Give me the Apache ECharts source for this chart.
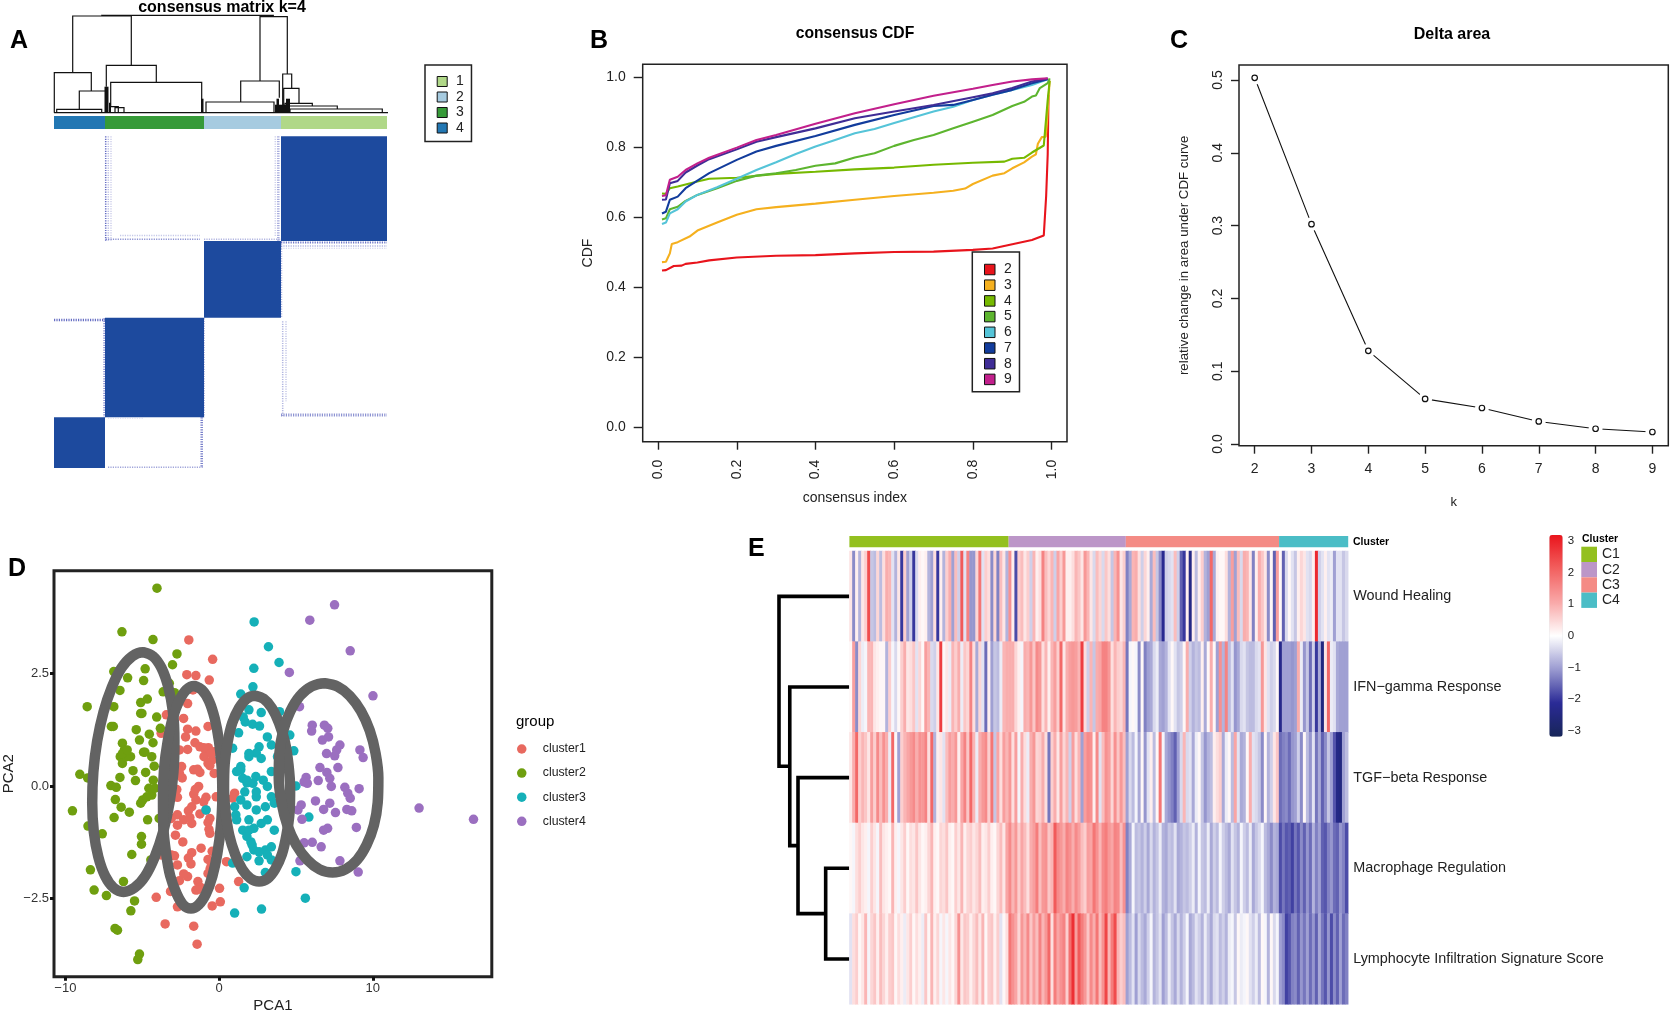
<!DOCTYPE html>
<html><head><meta charset="utf-8">
<style>html,body{margin:0;padding:0;background:#fff}#c{width:1671px;height:1015px}</style>
<script src="https://cdn.jsdelivr.net/npm/echarts@6/dist/echarts.min.js"></script>
</head><body><div id="c"></div>
<script>
/* ---------- Panel A ---------- */
const matrixTitle = 'consensus matrix k=4';
const matrixClusterNames = ['4','3','2','1'];
const matrixClusterColors = ['#2277b3','#369a38','#a6cbe0','#b0d888'];
const matrixColEdges = [0,51,150,227,333];
const matrixBlocks = [[227,333,0,104.7],[150,227,104.7,181.4],[51,150,181.4,281],[0,51,281,331.7]];
const matrixFaint = [
 [51.7,0,51.7,104.7,.8,1.5],[54.3,0,54.3,104.7,.35,1.5],[57,0,57,104.7,.25,1.5],
 [51.7,103,146,103,.6,1.5],[66,99.3,146,99.3,.3,1.5],
 [224.3,0,224.3,104.7,.45,2.5],[221.3,0,221.3,100,.25,1.5],
 [150,103,227,103,.4,1.5],[227,106.3,333,106.3,.75,2],[227,109.7,333,109.7,.4,1.5],[227,112,333,112,.25,1],
 [227.5,105,227.5,181,.4,1.5],[0,183.7,51,183.7,.8,2.5],[50.5,182,50.5,281,.6,2.5],
 [228.7,185,228.7,281,.4,1.5],[232,185,232,265,.3,1.5],[227,278.7,333,278.7,.6,3],
 [147.7,281,147.7,331,.7,2.5],[54,331,150,331,.5,1.5],[54,282,90,282,.2,1],[150,182,150,281,.5,1.5]];
const matrixDendro = [
 [0,334,0,0,0],[47.7,219.3,97.3,97,96],[18.7,77.3,96.7,40,47.3],[0.3,37.3,40,0,21.7],[25.3,52,21.7,3.3,0],
 [2.7,47.7,3.3,0,0],[52.3,102.3,47.3,26,30.3],[56.7,147.7,30.3,6,0],[56,64.3,6,0,0],[61,70,5,0,0],
 [206,233.3,96,31.7,38.7],[186.7,225.3,31.7,10.7,15],[152,220,10.7,0,0],[228.7,237.7,38.7,0,24.3],
 [229.7,245,24.3,0,9.3],[231,258.3,9.3,0,6.7],[233.3,283.3,6.7,0,3.7],[236,328.3,3.7,0,0]];
const matrixDendroDense = [[50.5,54.5,0,26],[221,232,0,8],[232,236,0,14],[147,149.5,0,14],[55,57,0,10],[222.5,225,0,14]];

/* ---------- Panel B ---------- */
const cdfNames = ['2','3','4','5','6','7','8','9'];
const cdfColors = ['#e8141c','#f5b01e','#76b900','#5db52f','#55c4d8','#123c9c','#3f2d96','#c2208c'];
const cdfTicks = [0,.2,.4,.6,.8,1];
const cdf2 = [[.01,.448],[.02,.449],[.04,.461],[.06,.462],[.07,.467],[.1,.471],[.13,.477],[.2,.485],[.3,.49],[.4,.492],[.5,.497],[.6,.501],[.7,.502],[.8,.507],[.85,.511],[.9,.523],[.95,.535],[.98,.548],[.985,.55],[.986,.66],[.99,.78],[.992,.95]];
const cdf3 = [[.01,.472],[.02,.473],[.03,.497],[.035,.524],[.05,.529],[.08,.545],[.1,.562],[.15,.585],[.2,.607],[.25,.623],[.3,.629],[.4,.639],[.5,.65],[.6,.661],[.7,.67],[.75,.676],[.78,.682],[.8,.695],[.85,.719],[.88,.726],[.9,.74],[.93,.757],[.95,.773],[.96,.78],[.965,.81],[.975,.829],[.985,.83],[.988,.868],[.99,.906],[.995,.99]];
const cdf4 = [[.01,.668],[.02,.667],[.03,.683],[.05,.688],[.1,.702],[.13,.71],[.2,.713],[.3,.724],[.4,.73],[.5,.737],[.6,.742],[.7,.75],[.8,.756],[.88,.759],[.9,.767],[.93,.77],[.95,.785],[.98,.805],[.985,.809],[.99,.935],[.995,.99]];
const cdf5 = [[.01,.594],[.02,.597],[.03,.623],[.05,.63],[.07,.647],[.1,.664],[.15,.683],[.2,.704],[.25,.719],[.3,.726],[.35,.735],[.4,.747],[.45,.754],[.5,.771],[.55,.783],[.6,.804],[.65,.821],[.7,.835],[.75,.854],[.8,.873],[.85,.892],[.9,.918],[.93,.93],[.95,.945],[.96,.948],[.97,.969],[.99,.983],[.995,.997]];
const cdf6 = [[.01,.581],[.02,.585],[.03,.611],[.05,.623],[.07,.645],[.1,.664],[.15,.686],[.2,.71],[.25,.735],[.3,.757],[.35,.781],[.4,.802],[.45,.821],[.5,.84],[.55,.852],[.6,.869],[.65,.886],[.7,.902],[.75,.916],[.8,.935],[.85,.95],[.9,.964],[.95,.978],[.99,.994]];
const cdf7 = [[.01,.611],[.02,.616],[.03,.65],[.05,.659],[.07,.683],[.1,.705],[.13,.726],[.2,.764],[.25,.788],[.3,.804],[.4,.832],[.5,.864],[.6,.892],[.7,.918],[.75,.921],[.8,.935],[.85,.95],[.9,.964],[.95,.983],[.99,.994]];
const cdf8 = [[.01,.65],[.02,.651],[.03,.697],[.05,.704],[.07,.728],[.1,.748],[.13,.766],[.2,.794],[.25,.816],[.3,.829],[.4,.854],[.5,.883],[.6,.902],[.7,.921],[.8,.943],[.85,.954],[.9,.969],[.95,.988],[.99,.996]];
const cdf9 = [[.01,.661],[.02,.663],[.03,.707],[.05,.716],[.07,.735],[.1,.754],[.13,.77],[.2,.799],[.25,.821],[.3,.835],[.4,.867],[.5,.897],[.6,.923],[.7,.947],[.8,.967],[.85,.978],[.9,.988],[.95,.994],[.99,.997]];
const cdfLines = [cdf2,cdf3,cdf4,cdf5,cdf6,cdf7,cdf8,cdf9];

/* ---------- Panel C ---------- */
const deltaK = [2,3,4,5,6,7,8,9];
const deltaArea = [.503,.302,.128,.062,.0495,.031,.021,.0165];
const deltaYTicks = [0,.1,.2,.3,.4,.5];

/* ---------- Panel D ---------- */
const cluster1 = [[-1.97,3.24],[-.42,2.81],[-2.1,2.47],[-1.51,2.45],[-.64,2.35],[-1.7,2.13],[-2.05,1.83],[-3.43,1.58],[-2.31,1.5],[-2.05,1.26],[-1.51,1.22],[-.72,1.32],[-3.77,1.17],[-2.18,1.09],[-1.57,.96],[-1.25,.87],[-.85,.76],[-.32,.76],[-2.05,.81],[-2.58,.8],[-.98,.65],[-.72,.5],[-.45,.58],[-2.44,.43],[-1.65,.36],[-1.25,.3],[-2.58,.28],[-.32,.28],[-1.33,-.01],[-1.65,-.18],[-1.51,-.31],[-2.71,-.25],[-.85,-.25],[-1.78,-.46],[-1.25,-.62],[-2.71,-.64],[-3.11,-.72],[-.85,-.53],[-.19,-.24],[1.01,-.16],[.88,-.27],[-2.71,-.87],[-1.78,-.83],[-.72,-.81],[-.66,-.96],[-2.84,-1.09],[-2.36,-1.24],[-1.17,-1.38],[-1.78,-1.48],[-3.11,-1.53],[-.72,-1.63],[.48,-1.68],[-2.71,-1.75],[-1.83,-1.73],[-.58,-1.83],[-.72,-1.94],[-2.05,-2.01],[-2.58,-2.1],[-1.38,-2.12],[-1.51,-2.31],[.03,-2.27],[-3.16,-2.34],[-4.09,-2.47],[.08,-2.57],[-.45,-2.66],[-2.71,-2.68],[-3.51,-3.06],[-1.65,-3.11],[-1.43,-3.51],[1.27,-2.12],[-3.77,-1.53],[-.7,.85],[-1,.85],[-.5,.72],[-.6,.45],[-2.4,.18],[-1.4,.37],[-2.75,-.08],[-1.55,-.08],[-1,-.35],[-2.3,-.75],[-2,-.55],[-1.9,-.7],[-.6,-1.05],[-.6,-.72],[-.45,-1.45],[-.5,-1.75],[-1.2,-2.25],[-1.4,-2.3],[-2.3,-1.95],[-2,-1.6],[-2.9,-1.55]];
const cluster2 = [[-4.04,4.39],[-6.32,3.42],[-4.3,3.25],[-2.74,2.93],[-3.03,2.69],[-6.85,2.54],[-4.81,2.6],[-5.95,2.4],[-4.91,2.34],[-6.45,2.12],[-3.64,2.09],[-2.9,2.07],[-5.1,1.85],[-4.67,1.93],[-8.58,1.76],[-6.85,1.76],[-5.02,1.61],[-4.06,1.53],[-7.01,1.32],[-5.39,1.25],[-4.54,1.15],[-3.82,1.28],[-5.18,1.02],[-6.29,.95],[-4.3,.96],[-4.91,.75],[-6.16,.8],[-6.43,.65],[-5.76,.65],[-4.38,.65],[-6.29,.5],[-4.22,.44],[-5.6,.34],[-4.78,.3],[-9.06,.26],[-8.55,.18],[-6.45,.19],[-5.44,.12],[-4.28,.13],[-7.04,.01],[-6.69,-.03],[-4.57,-.05],[-4.38,-.2],[-4.97,-.31],[-6.75,-.3],[-6.37,-.47],[-5.84,-.58],[-9.54,-.55],[-6.83,-.7],[-4.65,-.75],[-3.9,-.72],[-8.53,-.89],[-7.6,-1.06],[-5.05,-1.12],[-5.05,-1.29],[-5.68,-1.52],[-8.37,-1.86],[-6.22,-2.12],[-8.13,-2.31],[-7.33,-2.43],[-5.5,-2.55],[-5.74,-2.77],[-6.77,-3.16],[-6.61,-3.2],[-5.18,-3.73],[-5.29,-3.85],[-6.03,.65],[-6.29,.72],[-5.98,.8],[-5.1,1.61],[-6.88,1.32],[-4.83,.75],[-5.1,-.38],[-4.7,-.24],[-4.17,-.05],[-3.51,-.72],[-4.44,-1.64],[-3.24,2.28]];
const cluster3 = [[2.28,3.64],[3.21,3.09],[3.9,2.74],[2.26,2.61],[2.2,2.2],[1.41,2.04],[1.94,1.69],[2.74,1.63],[3.93,1.65],[1.57,1.53],[1.7,1.42],[2.18,1.37],[2.63,1.33],[1.27,1.18],[3.14,1.09],[3.4,.91],[2.6,.87],[2.42,.73],[1.94,.65],[4.86,.78],[.88,.84],[.08,.65],[1.41,.43],[1.14,.32],[3.4,.32],[1.54,.17],[1.81,.07],[2.39,.21],[2.87,.13],[3.14,-.01],[3.4,-.24],[2.42,-.24],[1.41,-.31],[1.81,-.42],[2.42,-.53],[3.01,-.46],[3.59,-.38],[1.01,-.46],[1.09,-.64],[1.94,-.75],[3.14,-.75],[2.74,-.83],[2.26,-.94],[1.54,-.98],[1.81,-1.12],[3.59,-.98],[2.07,-1.24],[2.26,-1.42],[3.01,-1.42],[3.4,-1.35],[3.14,-1.53],[1.81,-1.57],[2.6,-1.66],[.88,-1.71],[3.4,-1.64],[3.01,-1.92],[5,-1.9],[1.63,-2.26],[5.61,-2.49],[2.76,-2.73],[1.01,-2.82],[-.85,-.53],[5.84,-.69],[4.6,1.13],[5,0],[1.14,-.75],[4.07,.83],[3.8,.65],[1.94,-.98],[1.67,-.13],[2.74,.61],[2.2,.06],[2.42,-.13],[1.94,.72],[2.6,-1.46],[2.15,-1.31],[1.41,.36],[1.81,.13]];
const cluster4 = [[7.51,4.02],[5.9,3.68],[8.53,3],[4.57,2.52],[10.01,2],[5.23,1.76],[6.06,1.35],[6.02,1.22],[6.85,1.35],[7.07,1.28],[6.72,1.02],[7.12,1.09],[7.86,.91],[7.65,.8],[9.16,.8],[9.37,.63],[6.99,.72],[7.52,.67],[7.73,.41],[6.56,.41],[7.01,.3],[7.2,.17],[5.66,.19],[5.53,.09],[6.45,.12],[5.74,.06],[7.3,-.01],[8.18,-.03],[9.11,-.06],[8.37,-.16],[8.53,-.27],[6.27,-.33],[5.34,-.42],[5.13,-.53],[6.8,-.52],[7.2,-.38],[7.57,-.59],[8.31,-.52],[8.63,-.55],[5.39,-.74],[8.93,-.92],[7.06,-.94],[6.8,-.98],[5.53,-1.26],[6.06,-1.25],[6.64,-1.35],[5.26,-1.66],[7.86,-1.66],[9.05,-1.91],[13.01,-.49],[16.55,-.74]];
const pcaNames = ['cluster1','cluster2','cluster3','cluster4'];
const pcaColors = ['#e8695f','#6f9f0f','#15b0b8','#9b6fc0'];
const ellipse1 = [[-1.62,2.22],[-1.126,2.136],[-.66,1.89],[-.283,1.496],[0,.98],[.171,.39],[.21,-.25],[.117,-.89],[-.11,-1.49],[-.433,-1.996],[-.85,-2.39],[-1.33,-2.636],[-1.83,-2.72],[-2.334,-2.636],[-2.76,-2.39],[-3.177,-1.996],[-3.45,-1.49],[-3.631,-.89],[-3.65,-.25],[-3.577,.39],[-3.35,.98],[-3.027,1.496],[-2.6,1.89],[-2.13,2.136]];
const ellipse2 = [[-4.97,2.97],[-4.304,2.88],[-3.75,2.62],[-3.301,2.19],[-3,1.64],[-2.906,.999],[-2.97,.31],[-3.23,-.379],[-3.64,-1.02],[-4.183,-1.57],[-4.81,-2],[-5.51,-2.26],[-6.22,-2.35],[-6.856,-2.26],[-7.41,-2],[-7.859,-1.57],[-8.15,-1.02],[-8.254,-.379],[-8.18,.31],[-7.93,.999],[-7.52,1.64],[-6.977,2.19],[-6.35,2.62],[-5.65,2.88]];
const ellipse3 = [[2.34,2],[2.899,1.934],[3.43,1.73],[3.896,1.399],[4.28,.98],[4.513,.475],[4.62,-.06],[4.581,-.595],[4.38,-1.09],[4.084,-1.519],[3.64,-1.85],[3.155,-2.054],[2.6,-2.12],[2.041,-2.054],[1.51,-1.85],[1.044,-1.519],[.66,-1.09],[.427,-.595],[.32,-.06],[.359,.475],[.56,.98],[.856,1.399],[1.3,1.73],[1.785,1.934]];
const ellipse4 = [[6.85,2.28],[7.702,2.209],[8.5,2],[9.223,1.665],[9.8,1.23],[10.181,.724],[10.36,.18],[10.319,-.364],[10.07,-.87],[9.599,-1.305],[8.98,-1.64],[8.216,-1.849],[7.38,-1.92],[6.538,-1.849],[5.74,-1.64],[5.017,-1.305],[4.44,-.87],[4.059,-.364],[3.88,.18],[3.921,.724],[4.17,1.23],[4.641,1.665],[5.26,2],[6.024,2.209]];
const pcaXTicks = [-10,0,10];
const pcaYTicks = [-2.5,0,2.5];

/* ---------- Panel E ---------- */
const signatureNames = ['Wound Healing','IFN\u2212gamma Response','TGF\u2212beta Response','Macrophage Regulation','Lymphocyte Infiltration Signature Score'];
const heatClusterNames = ['C1','C2','C3','C4'];
const heatClusterColors = ['#93c01f','#bc96c8','#f48b85','#4bbdc6'];
const heatClusterEdges = [0,53,92,143,166];
const woundHealing = [
 .3,-1.2,.2,-.8,.3,.6,2.4,-.6,-.7,.5,-.7,.4,1,.9,-.3,-.8,.3,-2,.6,-1,-.5,-2,-.4,.2,.1,.2,-.8,-1,.4,-2,.2,-.8,.6,1,-1,.8,-.5,2.2,-.3,1.6,-1.1,-1.1,.5,1.8,-.3,.6,.4,-1.2,.5,-1.3,.8,.3,-.8,
 1.4,.2,-1.8,.6,.8,.3,.6,-.5,.9,.2,.4,1.6,.8,.5,.9,-.5,1.1,.6,1.3,.2,.2,.4,.9,.7,.3,1.3,.9,.3,-.4,.8,.5,-.4,.7,.4,-.6,.9,1.4,.3,.6,
 -1.3,-.9,.9,1,.4,-.5,.5,.2,-.9,.8,-.6,-1.2,-2.2,-.5,-.4,-.3,.8,-.5,-1.6,-2,.2,-2.4,.2,-.7,.2,.6,-.8,-1,2,-.9,.2,.1,.1,.4,-.8,1.2,-1,.8,-.4,1,.9,.3,-1.3,.2,1,.7,.3,-1.2,.1,-1.6,1.2,
 .1,-1.6,-.4,.1,-.3,-.6,.2,.5,.3,-.3,-.4,.2,2.9,-.5,-.3,.2,-.3,-.2,-1,-.3,-.3,-.6,-.4];
const ifnGamma = [
 .1,1.2,-1.2,.5,-.2,-.1,.9,.9,.3,.2,.1,.1,-.8,.6,-.1,-.4,.1,.6,1,.3,.4,.7,-.3,.5,.1,1.2,.9,-.4,-.5,.3,2.6,.1,.3,-.2,.9,.6,1,-.2,.7,.5,1.6,.4,-.9,.5,-.3,-1.5,.2,-1,-.6,-.7,-.2,.9,1,
 1,1,.5,.2,-.1,1,.9,1.3,.7,1.5,1.3,.4,.9,.2,.9,1.2,.6,2,.3,1,1.2,1.3,1.2,.9,2.6,.4,-.5,.9,-.6,1,1.1,1.6,1.6,1.3,.4,.9,.6,.5,.9,
 -1.4,-.1,.1,-.1,-1.2,.1,-1.3,-1,-.9,-.4,-.2,-.9,-1,-.8,-.3,.1,-.3,-.6,-.5,.1,1,-.5,-.8,-.6,-.7,.2,-.9,.1,1,.1,-1,1.4,-.8,1.6,-.7,-.3,-1.1,-.9,-.4,-.3,-.6,-.7,-.7,-.4,-.3,1.3,.3,-.3,-.5,-.4,.1,
 -2.3,-1,-1,-1,-1.1,-1,1,-.2,-1.1,-.6,-1.5,-.5,-2,-.9,-2.5,.3,2,-.2,-.3,-.9,-1,-1,-1];
const tgfBeta = [
 .3,1,2,.6,.9,.7,.3,1.2,.6,1.5,.8,1.4,1,-.2,2,.1,-1,.6,.9,1.1,1.3,1.5,1,1.4,1.3,1.6,.4,2,-.8,.2,.3,-.3,.8,1.2,1,1.3,.2,1.1,1.6,.7,2,.9,-.2,1,1.3,1.5,.6,1.8,-.6,1.1,.4,1.2,.9,
 1.3,.4,1.2,-.1,1,.4,-.2,1,1.3,.5,.6,1,.4,-1.4,.6,1,.3,1.2,.5,.9,-.5,1.2,.4,.9,-1,1.2,1.5,1.4,.2,1.5,-.3,.8,1.4,1.2,.5,1.4,.7,1.3,.8,
 -1,-.4,-.7,-.1,-.9,.1,-1.1,-.3,.2,-.7,.1,1.8,-.1,-.9,-1.1,-1.3,-1.6,-1,-.4,.9,-.4,-.3,-.9,-.2,.1,-.6,-1.1,-.8,-.7,.2,.4,.6,-.9,-.2,.1,-.7,1.1,-.3,-.9,-.8,.1,1,-.3,-.4,-.6,-1.2,.1,-.8,-.5,.3,.7,
 -1.5,-1.3,-1.2,-1.5,-1.1,-1,-.5,-1.2,.1,-.7,-1.1,-.3,-1.4,-.9,-1.6,-1.2,-.6,-1,-1.7,-2.4,-2.5,-1,-.7];
const macrophage = [
 .1,-.1,.4,.6,.3,.2,-.1,.6,.3,-.1,.8,.3,.2,.1,.9,.2,-.1,.3,.6,.1,.4,.3,.7,.3,.1,.2,.5,.9,.2,.1,.5,.4,.7,.2,.1,.6,.3,.9,.2,.5,.6,.3,.5,.8,.2,.3,.6,.2,.1,.5,.8,.3,1.1,
 1.5,.9,1.3,.6,1.1,.8,.4,1,1.2,1.7,.8,1.3,1.4,.7,.9,2.2,1.5,1.3,1,1.6,1.4,1,1.5,1.2,.8,.6,1.2,1.1,1.8,1.4,.9,1.5,1.7,1.3,1.1,1.6,1.5,.8,1.4,
 -1.3,-.9,-.1,-.7,-.6,-.8,-.5,-.9,-.4,-.8,-.6,-.2,-.8,-.9,-.6,-.7,-.3,-.9,-.8,-.6,-.7,-.5,-.2,-.8,-.1,-.6,-.7,-.2,-.9,-.5,-.7,-.1,-.5,-.7,-.9,-.3,-.6,-.8,-.1,-.5,-.7,-.2,-.9,-.6,-.4,-.1,-.7,-.9,-1.2,-.8,-.9,
 -1.8,-1.4,-1.7,-1.6,-1.9,-1.4,-1.7,-1.2,-1.6,-1.1,-1.5,-.8,-1.3,-1,-1.6,-1.7,-1.3,-1.1,-1.5,-1.6,-1.1,-1.3,-1.8];
const lymphocyte = [
 -.3,.4,.6,.1,.3,.9,-.1,.5,.7,.2,.8,.5,.2,.6,.7,.1,.4,.2,-.2,.3,.6,.1,.4,.2,-.2,.7,.1,.9,.2,.5,-.1,.3,-.1,.3,.1,.5,1.4,.3,.7,.6,.2,.5,.8,.3,.9,.1,.6,.7,.2,.6,-.3,.1,.4,
 1.8,1.4,1.1,.5,1.3,.9,1.5,.7,1.2,.8,1.6,.9,1.3,2,.4,1.7,1.1,1.4,1.6,.6,1.9,2.8,1.2,2.2,1.7,1.3,.7,1.5,1,1.8,.8,1.4,2.5,.9,1.7,2.4,.9,.6,.8,
 -1,-.7,-.3,-1,-.4,-.7,-.9,-.5,-.1,-.8,-.6,-.3,-1,-.7,-.2,-.6,-.9,-.4,-.8,-.5,-.1,-.9,-.7,-.3,-.5,-.8,-.2,-.6,-.9,-.4,-.3,-.7,-.5,-.8,-.2,-.1,-.6,.1,-.2,-.1,.1,-.3,-.5,-.2,-.7,.1,-.1,-.8,.1,-.4,-.1,
 -1,-1.2,-1.9,-1.7,-1.3,-1.2,-1.6,-1.1,-1.4,-1,-1.5,-1.1,-1.6,-.9,-1.4,-1.7,-1.1,-1.8,-1.2,-1.6,-1,-1.5,-1.3];
const heatRows = [woundHealing,ifnGamma,tgfBeta,macrophage,lymphocyte];
const heatDendro = [[3.5,4.5,.337,0,0],[2.5,4,.73,0,.337],[1.5,3.25,.847,0,.73],[.5,2.375,1,0,.847]];
const heatScaleTicks = [-3,-2,-1,0,1,2,3];
const heatScaleColors = ['#172558','#2a2a96','#9a9ad0','#ffffff','#f9a8a8','#f2605f','#ea141c'];

/* ---------- helpers ---------- */
const FONT = '"Liberation Sans", Arial, sans-serif';
const INK = '#222';
const hiddenX = (g,min,max,extra) => Object.assign({type:'value',gridIndex:g,min,max,show:false},extra||{});
const hiddenY = (g,min,max,extra) => Object.assign({type:'value',gridIndex:g,min,max,show:false},extra||{});
const noLine = {show:false,onZero:false};

const rectItem = (p,api) => {
  const a = api.coord([api.value(0),api.value(2)]), b = api.coord([api.value(1),api.value(3)]);
  return {type:'rect',shape:{x:Math.min(a[0],b[0]),y:Math.min(a[1],b[1]),width:Math.abs(b[0]-a[0]),height:Math.abs(b[1]-a[1])},style:api.style()};
};
const upperDendroItem = lw => (p,api) => {
  const xa=api.value(0),xb=api.value(1),h=api.value(2),ha=api.value(3),hb=api.value(4);
  return {type:'polyline',shape:{points:[api.coord([xa,ha]),api.coord([xa,h]),api.coord([xb,h]),api.coord([xb,hb])]},style:{fill:'none',stroke:'#111',lineWidth:lw}};
};
const sideDendroItem = (p,api) => {
  const ya=api.value(0),yb=api.value(1),h=api.value(2),ha=api.value(3),hb=api.value(4);
  return {type:'polyline',shape:{points:[api.coord([ha,ya]),api.coord([h,ya]),api.coord([h,yb]),api.coord([hb,yb])]},style:{fill:'none',stroke:'#000',lineWidth:3.6,lineJoin:'miter'}};
};
const faintItem = (p,api) => {
  const a=api.coord([api.value(0),api.value(1)]), b=api.coord([api.value(2),api.value(3)]);
  return {type:'line',shape:{x1:a[0],y1:a[1],x2:b[0],y2:b[1]},style:{stroke:'#3f49b4',opacity:api.value(4),lineWidth:api.value(5),lineDash:[1.2,1.2],fill:'none'}};
};

const grids = [
 {left:54,top:12.7,width:333,height:100},                 // 0 A dendrogram
 {left:54,top:116,width:333,height:13},                   // 1 A bar
 {left:54,top:136.3,width:333,height:331.7},              // 2 A matrix
 {left:642.7,top:64.3,width:424.3,height:377.4,show:true,borderColor:INK,borderWidth:1.5,backgroundColor:'transparent'}, // 3 B
 {left:1239,top:65,width:429.3,height:380.7,show:true,borderColor:INK,borderWidth:1.5,backgroundColor:'transparent'},    // 4 C
 {left:53.9,top:570.7,width:437.9,height:406,show:true,borderColor:'#222',borderWidth:3,backgroundColor:'transparent'},  // 5 D
 {left:779,top:551,width:70.4,height:453.3},              // 6 E dendrogram
 {left:849.4,top:536,width:498.8,height:11.3},            // 7 E bar
 {left:849.4,top:551,width:498.8,height:453.3},           // 8 E heatmap
 {left:1549.3,top:535,width:13.4,height:201.7}            // 9 colour scale axis
];

const nameStyle = {color:INK,fontFamily:FONT,fontSize:14};
const tickLbl = (custom,extra) => Object.assign({customValues:custom,color:INK,fontFamily:FONT,fontSize:14},extra||{});

const xAxes = [
 hiddenX(0,0,333), hiddenX(1,0,333), hiddenX(2,0,333),
 {type:'value',gridIndex:3,min:-.039,max:1.039,position:'bottom',splitLine:{show:false},axisLine:noLine,
  axisTick:{customValues:cdfTicks,length:8,lineStyle:{color:INK,width:1.4}},
  axisLabel:tickLbl(cdfTicks,{rotate:90,margin:18,formatter:v=>(+v).toFixed(1)}),
  name:'consensus index',nameLocation:'middle',nameGap:49,nameTextStyle:nameStyle},
 {type:'value',gridIndex:4,min:1.724,max:9.28,position:'bottom',splitLine:{show:false},axisLine:noLine,
  axisTick:{customValues:deltaK,length:8,lineStyle:{color:INK,width:1.4}},
  axisLabel:tickLbl(deltaK,{margin:16}),
  name:'k',nameLocation:'middle',nameGap:50,nameTextStyle:{color:INK,fontFamily:FONT,fontSize:13}},
 {type:'value',gridIndex:5,min:-10.74,max:17.74,position:'bottom',splitLine:{show:false},axisLine:noLine,
  axisTick:{customValues:pcaXTicks,length:4,lineStyle:{color:'#111',width:3}},
  axisLabel:{customValues:pcaXTicks,color:'#333',fontFamily:FONT,fontSize:13,margin:5,formatter:v=>String(v).replace('-','\u2212')},
  name:'PCA1',nameLocation:'middle',nameGap:22,nameTextStyle:{color:INK,fontFamily:FONT,fontSize:15}},
 hiddenX(6,0,1,{inverse:true}),
 hiddenX(7,0,166),
 {type:'category',gridIndex:8,show:false,data:woundHealing.map((v,i)=>i)},
 hiddenX(9,0,1)
];
const yAxes = [
 hiddenY(0,0,100), hiddenY(1,0,1), hiddenY(2,0,331.7,{inverse:true}),
 {type:'value',gridIndex:3,min:-.041,max:1.037,position:'left',splitLine:{show:false},axisLine:noLine,
  axisTick:{customValues:cdfTicks,length:9,lineStyle:{color:INK,width:1.4}},
  axisLabel:tickLbl(cdfTicks,{margin:17,formatter:v=>(+v).toFixed(1)}),
  name:'CDF',nameLocation:'middle',nameGap:48,nameTextStyle:nameStyle},
 {type:'value',gridIndex:4,min:-.0023,max:.5206,position:'left',splitLine:{show:false},axisLine:noLine,
  axisTick:{customValues:deltaYTicks,length:8,lineStyle:{color:INK,width:1.4}},
  axisLabel:tickLbl(deltaYTicks,{rotate:90,margin:14,formatter:v=>(+v).toFixed(1)}),
  name:'relative change in area under CDF curve',nameLocation:'middle',nameGap:48,nameTextStyle:{color:INK,fontFamily:FONT,fontSize:13.3}},
 {type:'value',gridIndex:5,min:-4.231,max:4.777,position:'left',splitLine:{show:false},axisLine:noLine,
  axisTick:{customValues:pcaYTicks,length:4,lineStyle:{color:'#111',width:3}},
  axisLabel:{customValues:pcaYTicks,color:'#333',fontFamily:FONT,fontSize:13,margin:5,formatter:v=>(+v).toFixed(1).replace('-','\u2212')},
  name:'PCA2',nameLocation:'middle',nameGap:38,nameTextStyle:{color:INK,fontFamily:FONT,fontSize:15}},
 hiddenY(6,0,5,{inverse:true}),
 hiddenY(7,0,1),
 {type:'category',gridIndex:8,data:signatureNames,inverse:true,position:'right',axisLine:{show:false},axisTick:{show:false},
  axisLabel:{color:INK,fontFamily:FONT,fontSize:14.4,margin:5}},
 {type:'value',gridIndex:9,min:-3.18,max:3.18,position:'right',splitLine:{show:false},axisLine:{show:false},axisTick:{show:false},
  axisLabel:{customValues:heatScaleTicks,color:INK,fontFamily:FONT,fontSize:11.5,margin:5,formatter:v=>String(v).replace('-','\u2212')}}
];

const series = [];
/* A */
series.push({type:'custom',name:'dendroA',xAxisIndex:0,yAxisIndex:0,renderItem:upperDendroItem(1.2),data:matrixDendro,clip:false});
series.push({type:'custom',name:'dendroDenseA',xAxisIndex:0,yAxisIndex:0,renderItem:rectItem,itemStyle:{color:'#111'},data:matrixDendroDense});
matrixClusterNames.forEach((n,i)=>series.push({type:'custom',name:'a'+n,xAxisIndex:1,yAxisIndex:1,renderItem:rectItem,itemStyle:{color:matrixClusterColors[i]},
  data:[[matrixColEdges[i],matrixColEdges[i+1],0,1]]}));
series.push({type:'custom',name:'matrixFaint',xAxisIndex:2,yAxisIndex:2,renderItem:faintItem,data:matrixFaint,clip:false});
series.push({type:'custom',name:'matrix',xAxisIndex:2,yAxisIndex:2,renderItem:rectItem,itemStyle:{color:'#1d4a9e'},data:matrixBlocks});
/* B */
cdfNames.forEach((n,i)=>series.push({type:'line',name:n,xAxisIndex:3,yAxisIndex:3,data:cdfLines[i],showSymbol:false,symbol:'none',
  itemStyle:{color:cdfColors[i]},lineStyle:{color:cdfColors[i],width:2.1}}));
/* C */
const deltaPts = deltaK.map((k,i)=>[k,deltaArea[i]]);
series.push({type:'line',name:'delta',xAxisIndex:4,yAxisIndex:4,data:deltaPts,showSymbol:false,symbol:'none',z:2,lineStyle:{color:'#111',width:1.1}});
series.push({type:'scatter',name:'deltaGap',xAxisIndex:4,yAxisIndex:4,data:deltaPts,symbolSize:14,z:3,itemStyle:{color:'#fff',opacity:1}});
series.push({type:'scatter',name:'deltaPoints',xAxisIndex:4,yAxisIndex:4,data:deltaPts,symbolSize:5.5,z:4,itemStyle:{color:'#fff',borderColor:'#111',borderWidth:1.2,opacity:1}});
/* D */
[cluster1,cluster2,cluster3,cluster4].forEach((d,i)=>series.push({type:'scatter',name:pcaNames[i],xAxisIndex:5,yAxisIndex:5,data:d,symbolSize:9.5,itemStyle:{color:pcaColors[i],opacity:1}}));
[ellipse2,ellipse1,ellipse3,ellipse4].forEach((d,i)=>series.push({type:'line',name:'ellipse'+(i+1),xAxisIndex:5,yAxisIndex:5,z:3,
  data:d.concat(d.slice(0,2)),smooth:.34,showSymbol:false,symbol:'none',lineStyle:{color:'#636363',width:10.5}}));
/* E */
series.push({type:'custom',name:'dendroE',xAxisIndex:6,yAxisIndex:6,renderItem:sideDendroItem,data:heatDendro,clip:false});
heatClusterNames.forEach((n,i)=>series.push({type:'custom',name:n,xAxisIndex:7,yAxisIndex:7,renderItem:rectItem,itemStyle:{color:heatClusterColors[i]},
  data:[[heatClusterEdges[i],heatClusterEdges[i+1],0,1]]}));
const heatData = [];
heatRows.forEach((row,r)=>row.forEach((v,c)=>heatData.push([c,r,v])));
const heatSeriesIndex = series.length;
series.push({type:'heatmap',name:'signature scores',xAxisIndex:8,yAxisIndex:8,data:heatData,progressive:0,animation:false,emphasis:{disabled:true}});
series.push({type:'custom',name:'scaleHolder',xAxisIndex:9,yAxisIndex:9,renderItem:()=>({type:'group'}),data:[[0,0]]});

const legendText = {color:INK,fontFamily:FONT,fontSize:14};
const legends = [
 {data:['a1','a2','a3','a4'],left:425,top:65,orient:'vertical',icon:'rect',selectedMode:false,itemWidth:10,itemHeight:10,itemGap:1.5,
  padding:[9.5,7.6,6.5,11.7],borderColor:INK,borderWidth:1.5,textStyle:legendText,formatter:n=>' '+n.slice(1),itemStyle:{borderColor:'#111',borderWidth:1}},
 {data:cdfNames,left:972.3,top:252,orient:'vertical',icon:'rect',selectedMode:false,itemWidth:10.5,itemHeight:10.5,itemGap:1.7,
  padding:[10.5,7.8,5.4,11.7],borderColor:INK,borderWidth:1.5,backgroundColor:'#fff',textStyle:legendText,formatter:n=>' '+n,itemStyle:{borderColor:'#111',borderWidth:1}},
 {data:pcaNames,left:517,top:743,orient:'vertical',icon:'circle',selectedMode:false,itemWidth:32,itemHeight:9.5,itemGap:12.1,padding:0,
  textStyle:{color:INK,fontFamily:FONT,fontSize:12.3}},
 {data:heatClusterNames,left:1581.3,top:546.7,orient:'vertical',icon:'rect',selectedMode:false,itemWidth:15.7,itemHeight:15.3,itemGap:0,padding:0,
  textStyle:legendText}
];

const ttl = (text,left,top,size,weight,align) => ({text,left,top,padding:0,textAlign:align||'center',
  textStyle:{fontFamily:FONT,fontSize:size,fontWeight:weight||'bold',color:'#000'}});
const titles = [
 ttl(matrixTitle,222,0,16),ttl('consensus CDF',855,26,15.7),ttl('Delta area',1452,27,16),
 ttl('A',10,29,25,'bold','left'),ttl('B',590,29,25,'bold','left'),ttl('C',1170,29,25,'bold','left'),
 ttl('D',8,557,25,'bold','left'),ttl('E',748,537,25,'bold','left'),
 ttl('group',516,714,15,'normal','left'),ttl('Cluster',1582,533.5,10.5,'bold','left'),ttl('Cluster',1353,536.5,10.5,'bold','left')
];

const chart = echarts.init(document.getElementById('c'),null,{renderer:'canvas'});
chart.setOption({
 animation:false,backgroundColor:'#fff',
 textStyle:{fontFamily:FONT},
 title:titles,legend:legends,grid:grids,xAxis:xAxes,yAxis:yAxes,series,
 visualMap:[{type:'continuous',seriesIndex:heatSeriesIndex,dimension:2,min:-3.18,max:3.18,left:1549.3,top:535,itemWidth:13.4,itemHeight:201.7,padding:0,
   calculable:false,text:null,showLabel:false,inRange:{color:heatScaleColors},textStyle:{color:'rgba(0,0,0,0)',fontSize:1}}]
});
</script></body></html>
